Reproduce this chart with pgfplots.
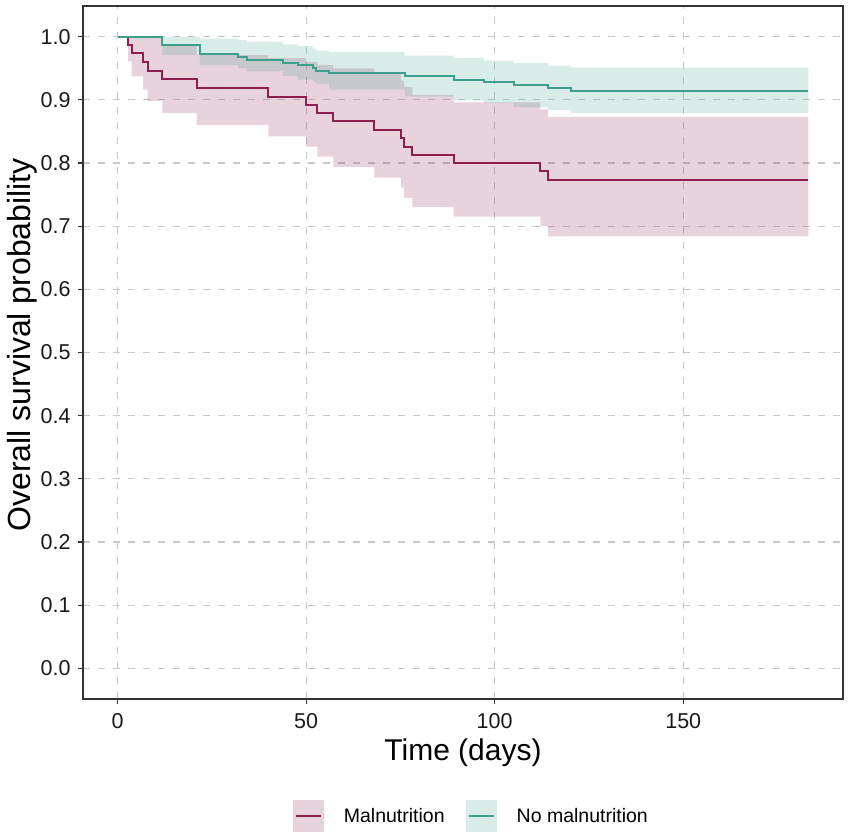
\documentclass[border=0pt]{standalone}
\usepackage{fontspec}
\setmainfont{Liberation Sans}
\usepackage{pgfplots}
\usepackage{pgfplotstable}
\pgfplotsset{compat=1.18}
\usepgfplotslibrary{fillbetween}
\definecolor{mred}{RGB}{142,30,78}
\definecolor{mteal}{RGB}{60,160,140}
\definecolor{gridc}{RGB}{200,200,200}
\definecolor{framec}{RGB}{51,51,51}

\pgfplotstableread{
t s
0 1.000
2.8 0.987
3.7 0.974
6.8 0.960
7.95 0.946
11.9 0.933
21.0 0.919
40.0 0.905
50.0 0.892
53.0 0.879
57.2 0.866
68.1 0.853
75.1 0.839
76.0 0.826
78.2 0.813
89.1 0.800
112.1 0.787
114.1 0.773
183.2 0.773
}\malsurv

\pgfplotstableread{
t s
0 1.000
2.8 0.961
3.7 0.937
6.8 0.916
7.95 0.898
11.9 0.879
21.0 0.860
40.0 0.842
50.0 0.826
53.0 0.810
57.2 0.794
68.1 0.777
75.1 0.761
76.0 0.745
78.2 0.730
89.1 0.715
112.1 0.700
114.1 0.684
183.2 0.684
}\mallow

\pgfplotstableread{
t s
0 1.000
11.9 0.987
21.0 0.971
40.0 0.966
50.0 0.960
53.0 0.955
57.2 0.950
68.1 0.942
75.1 0.930
76.0 0.920
78.2 0.908
89.1 0.896
112.1 0.885
114.1 0.873
183.2 0.873
}\malup

\pgfplotstableread{
t s
0 1.000
11.9 0.987
21.8 0.973
32.0 0.968
34.2 0.963
43.9 0.959
47.9 0.955
51.8 0.950
52.7 0.946
56.1 0.942
76.1 0.937
89.1 0.932
97.1 0.928
105.0 0.924
114.1 0.918
120.3 0.914
183.2 0.914
}\nosurv

\pgfplotstableread{
t s
0 1.000
21.8 0.997
32.0 0.995
34.2 0.992
43.9 0.988
47.9 0.985
51.8 0.981
52.7 0.978
56.1 0.976
76.1 0.970
89.1 0.966
97.1 0.962
105.0 0.958
114.1 0.954
120.3 0.951
183.2 0.951
}\noup

\pgfplotstableread{
t s
0 1.000
11.9 0.971
21.8 0.955
32.0 0.950
34.2 0.945
43.9 0.938
47.9 0.932
51.8 0.928
52.7 0.925
56.1 0.916
76.1 0.905
89.1 0.899
97.1 0.895
105.0 0.888
114.1 0.884
120.3 0.879
183.2 0.879
}\nolow

\begin{document}
\begin{tikzpicture}
\begin{axis}[
  at={(0pt,0pt)}, anchor=south west,
  scale only axis, width=760pt, height=693pt,
  xmin=-9.16, xmax=192.36, ymin=-0.0486, ymax=1.0486,
  xtick={0,50,100,150},
  ytick={0,0.1,0.2,0.3,0.4,0.5,0.6,0.7,0.8,0.9,1.0},
  yticklabel style={xshift=-4pt, /pgf/number format/.cd, fixed, fixed zerofill, precision=1},
  /pgf/number format/assume math mode=true,
  tick label style={font=\fontsize{21.5}{24}\selectfont, text=black!90},
  xticklabel style={yshift=-6pt},
  tick pos=left, tick align=outside, major tick length=5pt,
  tick style={line width=1.2pt, color=framec},
  axis line style={line width=1.3pt, color=framec},
  grid=major,
  major grid style={line width=1.1pt, color=gridc, dash pattern=on 7pt off 8pt},
  xlabel={Time (days)},
  ylabel={Overall survival probability},
  xlabel style={font=\fontsize{30}{33}\selectfont, at={(axis description cs:0.5,-0.0577)}, anchor=north, inner sep=0pt},
  ylabel style={font=\fontsize{32}{35}\selectfont, at={(axis description cs:-0.1,0.511)}, anchor=north, inner sep=0pt},
  legend style={at={(axis description cs:0.511,-0.1688)}, anchor=center, draw=none, fill=none,
    font=\fontsize{19.5}{22}\selectfont, inner sep=0pt, row sep=0pt,
    /tikz/every odd column/.append style={column sep=18pt},
    /tikz/every even column/.append style={column sep=19pt}},
  legend columns=2,
  legend cell align=left,
]
\addplot[const plot, draw=none, name path=mu, forget plot] table[x=t,y=s] {\malup};
\addplot[const plot, draw=none, name path=ml, forget plot] table[x=t,y=s] {\mallow};
\addplot[fill=mred, fill opacity=0.2, draw=none, forget plot] fill between[of=mu and ml];
\addplot[const plot, draw=none, name path=nu, forget plot] table[x=t,y=s] {\noup};
\addplot[const plot, draw=none, name path=nl, forget plot] table[x=t,y=s] {\nolow};
\addplot[fill=mteal, fill opacity=0.2, draw=none, forget plot] fill between[of=nu and nl];

\addplot[const plot, mred, line width=2pt, forget plot] table[x=t,y=s] {\malsurv};
\addplot[const plot, mteal, line width=2pt, forget plot] table[x=t,y=s] {\nosurv};

\addlegendimage{legend image code/.code={\path[fill=mred, fill opacity=0.2, draw=none] (0pt,-16pt) rectangle (31pt,16pt); \path[draw=mred, line width=2pt] (3pt,0pt) -- (28pt,0pt);}}
\addlegendentry{Malnutrition}
\addlegendimage{legend image code/.code={\path[fill=mteal, fill opacity=0.2, draw=none] (0pt,-16pt) rectangle (31pt,16pt); \path[draw=mteal, line width=2pt] (3pt,0pt) -- (28pt,0pt);}}
\addlegendentry{No malnutrition}
\end{axis}
\path (-83pt,-139pt) rectangle (768pt,699pt);
\end{tikzpicture}
\end{document}
